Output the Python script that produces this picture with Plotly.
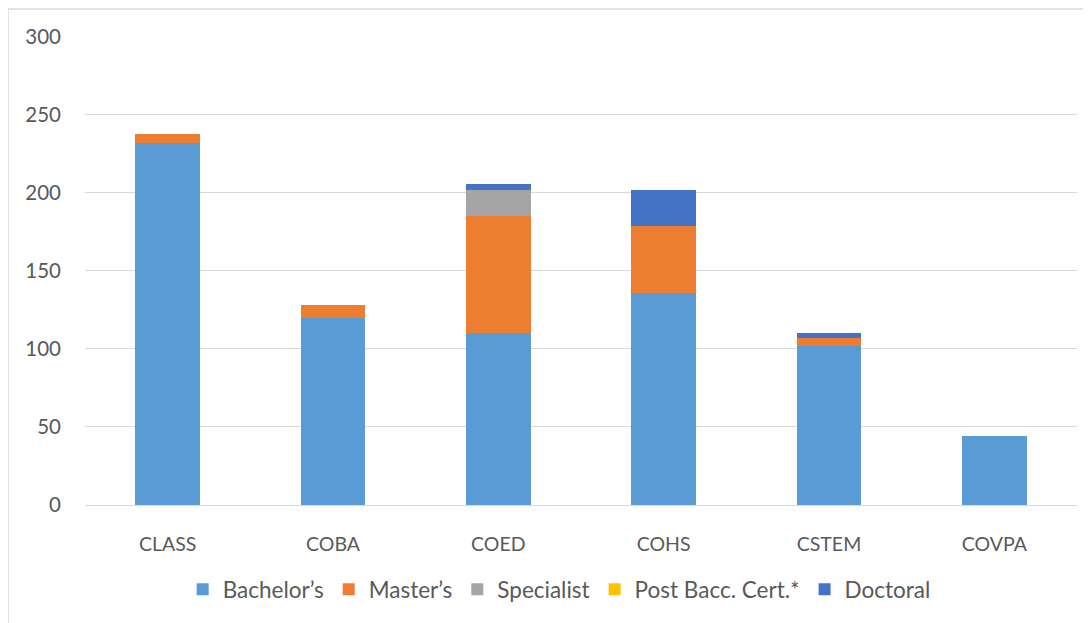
import plotly.graph_objects as go

colleges = ["CLASS", "COBA", "COED", "COHS", "CSTEM", "COVPA"]
bachelors = [232, 120, 110, 136, 102, 44]
masters = [6, 8, 75, 43, 5, 0]
specialist = [0, 0, 17, 0, 0, 0]
post_bacc = [0, 0, 0, 0, 0, 0]
doctoral = [0, 0, 4, 23, 3, 0]

series = [
    ("Bachelor\u2019s", bachelors, "#5B9BD5"),
    ("Master\u2019s", masters, "#ED7D31"),
    ("Specialist", specialist, "#A5A5A5"),
    ("Post Bacc. Cert.*", post_bacc, "#FFC000"),
    ("Doctoral", doctoral, "#4472C4"),
]

fig = go.Figure()
for name, vals, col in series:
    fig.add_trace(go.Bar(
        x=colleges, y=vals, name=name,
        marker=dict(color=col, line=dict(width=0)),
    ))

# page is offset by the 8px body margin; coordinates below are figure coords
OFF = 8
L, R, T, B = 85 - OFF, 1077 - OFF, 36 - OFF, 507 - OFF
W, H = 1091 - OFF, 623 - OFF
pw, ph = R - L, B - T

def px(x):
    return (x - L) / pw

def py(y):
    return (B - y) / ph

fig.update_layout(
    width=W, height=H,
    barmode="stack", bargap=0.607,
    margin=dict(l=L, r=W - R, t=T, b=H - B),
    paper_bgcolor="white", plot_bgcolor="white",
    font=dict(family="Lato, Carlito, Calibri, sans-serif", size=19, color="#595959"),
    legend=dict(orientation="h", x=0.478, xanchor="center", y=py(584), yanchor="middle",
                font=dict(size=22.5, color="#595959"), itemwidth=30, traceorder="normal"),
    xaxis=dict(showgrid=False, showline=True, linecolor="#D9D9D9", linewidth=1,
               ticks="", ticklabelstandoff=22, tickfont=dict(size=19.5)),
    yaxis=dict(range=[0, 300.6], tickvals=[0, 50, 100, 150, 200, 250, 300],
               showgrid=True, gridcolor="#D9D9D9", gridwidth=1, zeroline=False,
               showline=False, ticks="", ticklabelstandoff=23, tickfont=dict(size=20.5)),
    shapes=[
        dict(type="rect", xref="paper", yref="paper",
             x0=px(0), x1=px(1100), y0=py(640), y1=py(1),
             line=dict(color="#D9D9D9", width=1.5), fillcolor="rgba(0,0,0,0)", layer="below"),
    ],
)

fig.write_html("out.html")
